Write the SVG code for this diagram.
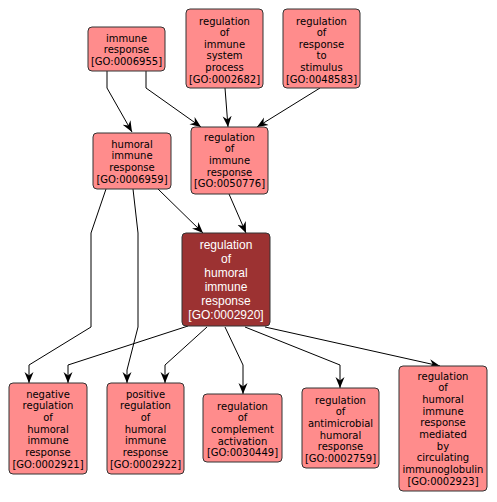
<svg xmlns="http://www.w3.org/2000/svg" width="497" height="502" viewBox="0 0 497 502">
<defs>
<style>
.n rect{fill:#ff8c8c;stroke:#333;stroke-width:1}
.n text{font-family:"DejaVu Sans",Verdana,sans-serif;font-size:10px;fill:#000;text-anchor:middle}
.d rect{fill:#9c3232;stroke:#333;stroke-width:1}
.d text{font-family:"Liberation Sans",Arial,sans-serif;font-size:12px;fill:#fff;text-anchor:middle}
.e polyline{fill:none;stroke:#000;stroke-width:1;marker-end:url(#a)}
</style>
<marker id="a" markerUnits="userSpaceOnUse" markerWidth="12" markerHeight="10" refX="11" refY="5" orient="auto">
<path d="M0,0.5 L11,5 L0,9.5 L3.5,5 z" fill="#000"/>
</marker>
</defs>
<rect width="497" height="502" fill="#fff"/>
<g class="e" id="edges">
<polyline points="107,71 107,88 132,132"/>
<polyline points="146,71 146,88 201,127"/>
<polyline points="225,88 228,127"/>
<polyline points="320,88 257,127"/>
<polyline points="158,189 203,233"/>
<polyline points="229,194 246,233"/>
<polyline points="106,189 91,233 91,327 29,365 29,383"/>
<polyline points="133,189 138,233 138,327 127,370 127,383"/>
<polyline points="188,326 68,365 68,383"/>
<polyline points="207,327 165,365 165,383"/>
<polyline points="225,327 243,365 243,394"/>
<polyline points="245,327 340,365 340,388"/>
<polyline points="265,327 440,366"/>
</g>
<g class="n" id="GO0006955"><rect x="88" y="27" width="77" height="44" rx="4"/>
<text x="126.5" y="41.5">immune</text><text x="126.5" y="53.2">response</text><text x="126.5" y="64.9">[GO:0006955]</text></g>
<g class="n" id="GO0002682"><rect x="186" y="9" width="77" height="79" rx="4"/>
<text x="224.5" y="24.5">regulation</text><text x="224.5" y="36.1">of</text><text x="224.5" y="47.7">immune</text><text x="224.5" y="59.3">system</text><text x="224.5" y="70.9">process</text><text x="224.5" y="82.5">[GO:0002682]</text></g>
<g class="n" id="GO0048583"><rect x="283" y="9" width="77" height="79" rx="4"/>
<text x="321.5" y="24.5">regulation</text><text x="321.5" y="36.1">of</text><text x="321.5" y="47.7">response</text><text x="321.5" y="59.3">to</text><text x="321.5" y="70.9">stimulus</text><text x="321.5" y="82.5">[GO:0048583]</text></g>
<g class="n" id="GO0006959"><rect x="93" y="133" width="78" height="56" rx="4"/>
<text x="132" y="147.5">humoral</text><text x="132" y="159.2">immune</text><text x="132" y="170.9">response</text><text x="132" y="182.6">[GO:0006959]</text></g>
<g class="n" id="GO0050776"><rect x="191" y="127" width="77" height="67" rx="4"/>
<text x="229.5" y="140.5">regulation</text><text x="229.5" y="152.2">of</text><text x="229.5" y="163.9">immune</text><text x="229.5" y="175.6">response</text><text x="229.5" y="187.3">[GO:0050776]</text></g>
<g class="d" id="GO0002920"><rect x="182" y="233" width="88" height="93" rx="4"/>
<text x="226" y="249">regulation</text><text x="226" y="263">of</text><text x="226" y="277">humoral</text><text x="226" y="291">immune</text><text x="226" y="305">response</text><text x="226" y="319">[GO:0002920]</text></g>
<g class="n" id="GO0002921"><rect x="9" y="383" width="78" height="91" rx="4"/>
<text x="48" y="397.5">negative</text><text x="48" y="409.2">regulation</text><text x="48" y="420.9">of</text><text x="48" y="432.6">humoral</text><text x="48" y="444.3">immune</text><text x="48" y="456">response</text><text x="48" y="467.7">[GO:0002921]</text></g>
<g class="n" id="GO0002922"><rect x="107" y="383" width="77" height="91" rx="4"/>
<text x="145.5" y="397.5">positive</text><text x="145.5" y="409.2">regulation</text><text x="145.5" y="420.9">of</text><text x="145.5" y="432.6">humoral</text><text x="145.5" y="444.3">immune</text><text x="145.5" y="456">response</text><text x="145.5" y="467.7">[GO:0002922]</text></g>
<g class="n" id="GO0030449"><rect x="203" y="394" width="79" height="68" rx="4"/>
<text x="242.5" y="409.5">regulation</text><text x="242.5" y="421.2">of</text><text x="242.5" y="432.9">complement</text><text x="242.5" y="444.6">activation</text><text x="242.5" y="456.3">[GO:0030449]</text></g>
<g class="n" id="GO0002759"><rect x="302" y="388" width="77" height="80" rx="4"/>
<text x="340.5" y="403.5">regulation</text><text x="340.5" y="415.2">of</text><text x="340.5" y="426.9">antimicrobial</text><text x="340.5" y="438.6">humoral</text><text x="340.5" y="450.3">response</text><text x="340.5" y="462">[GO:0002759]</text></g>
<g class="n" id="GO0002923"><rect x="399" y="366" width="88" height="125" rx="4"/>
<text x="443" y="379.5">regulation</text><text x="443" y="391.2">of</text><text x="443" y="402.9">humoral</text><text x="443" y="414.6">immune</text><text x="443" y="426.3">response</text><text x="443" y="438">mediated</text><text x="443" y="449.7">by</text><text x="443" y="461.4">circulating</text><text x="443" y="473.1">immunoglobulin</text><text x="443" y="484.8">[GO:0002923]</text></g>
</svg>
